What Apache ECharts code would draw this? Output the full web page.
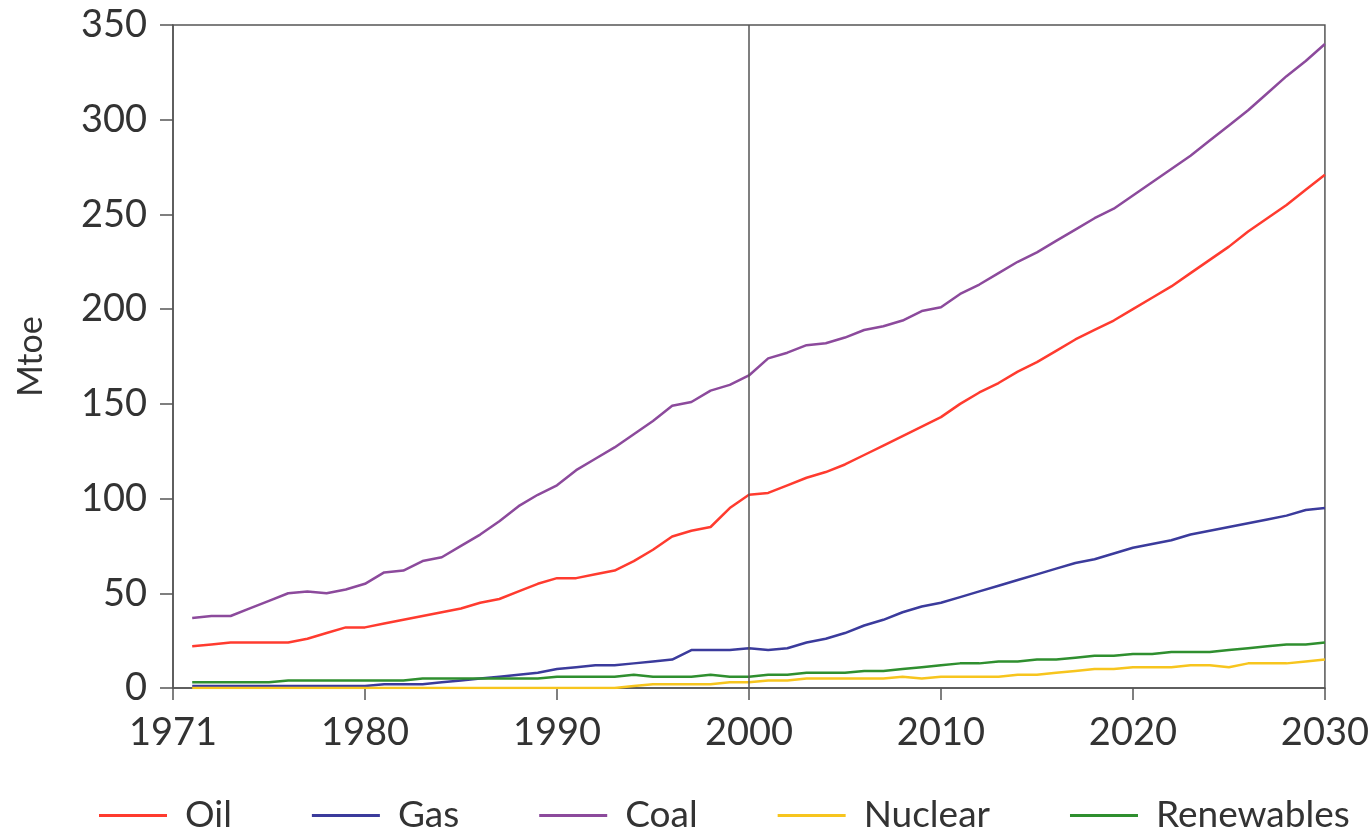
<!DOCTYPE html>
<html>
<head>
<meta charset="utf-8">
<script src="https://cdn.jsdelivr.net/npm/echarts@6/dist/echarts.min.js"></script>
<style>
html,body{margin:0;padding:0;background:#fff;}
#chart{width:1372px;height:835px;}
</style>
</head>
<body>
<div id="chart"></div>
<script>
const years = [];
for (let y = 1971; y <= 2030; y++) years.push(y);

const oil = [22,23,24,24,24,24,26,29,32,32,34,36,38,40,42,45,47,51,55,58,58,60,62,67,73,80,83,85,95,102,103,107,111,114,118,123,128,133,138,143,150,156,161,167,172,178,184,189,194,200,206,212,219,226,233,241,248,255,263,271];
const gas = [1,1,1,1,1,1,1,1,1,1,2,2,2,3,4,5,6,7,8,10,11,12,12,13,14,15,20,20,20,21,20,21,24,26,29,33,36,40,43,45,48,51,54,57,60,63,66,68,71,74,76,78,81,83,85,87,89,91,94,95];
const coal = [37,38,38,42,46,50,51,50,52,55,61,62,67,69,75,81,88,96,102,107,115,121,127,134,141,149,151,157,160,165,174,177,181,182,185,189,191,194,199,201,208,213,219,225,230,236,242,248,253,260,267,274,281,289,297,305,314,323,331,340];
const nuclear = [0,0,0,0,0,0,0,0,0,0,0,0,0,0,0,0,0,0,0,0,0,0,0,1,2,2,2,2,3,3,4,4,5,5,5,5,5,6,5,6,6,6,6,7,7,8,9,10,10,11,11,11,12,12,11,13,13,13,14,15];
const renewables = [3,3,3,3,3,4,4,4,4,4,4,4,5,5,5,5,5,5,5,6,6,6,6,7,6,6,6,7,6,6,7,7,8,8,8,9,9,10,11,12,13,13,14,14,15,15,16,17,17,18,18,19,19,19,20,21,22,23,23,24];

const seriesNames = ['Oil','Gas','Coal','Nuclear','Renewables'];
const seriesColors = ['#ff3b2f','#3b3b9c','#8c4a9c','#f7c51e','#2f8f2f'];
const seriesData = [oil, gas, coal, nuclear, renewables];
const yTicks = [0,50,100,150,200,250,300,350];
const xTickLabelFirst = '1971';

const FONT = 'Lato, "Open Sans", sans-serif';

const chart = echarts.init(document.getElementById('chart'));
const series = seriesNames.map((name, i) => ({
  name: name,
  type: 'line',
  symbol: 'none',
  color: seriesColors[i],
  lineStyle: {width: 2.5, color: seriesColors[i]},
  data: years.map((y, j) => [y, seriesData[i][j]]),
  z: 3
}));
series[0].markLine = {
  silent: true,
  symbol: 'none',
  label: {show: false},
  lineStyle: {color: '#555', width: 1.5, type: 'solid'},
  data: [{xAxis: 2000}]
};

chart.setOption({
  animation: false,
  backgroundColor: '#fff',
  grid: {left: 173, top: 25, width: 1155, height: 663, show: true, borderColor: '#555', borderWidth: 1.5, backgroundColor: 'transparent'},
  xAxis: {
    type: 'value', min: 1970, max: 2030, interval: 10,
    axisLine: {show: true, lineStyle: {color: '#555', width: 1.5}},
    axisTick: {show: true, inside: false, length: 12, lineStyle: {color: '#555', width: 1.5}},
    splitLine: {show: false},
    axisLabel: {margin: 26, fontSize: 38, color: '#333', fontFamily: FONT,
      formatter: v => v === 1970 ? xTickLabelFirst : String(v)}
  },
  yAxis: {
    type: 'value', min: 0, max: 350, interval: 50,
    name: 'Mtoe', nameLocation: 'middle', nameGap: 125, nameRotate: 90,
    nameTextStyle: {fontSize: 34, color: '#333', fontFamily: FONT},
    axisLine: {show: true, lineStyle: {color: '#555', width: 1.5}},
    axisTick: {show: true, inside: false, length: 13, lineStyle: {color: '#555', width: 1.5}},
    splitLine: {show: false},
    axisLabel: {margin: 26, fontSize: 38, color: '#333', fontFamily: FONT,
      formatter: v => yTicks.includes(v) ? String(v) : ''}
  },
  legend: {
    show: true, left: 94, top: 792, orient: 'horizontal',
    icon: 'rect', itemWidth: 68, itemHeight: 3, itemGap: 80,
    textStyle: {fontSize: 37, color: '#333', fontFamily: FONT, padding: [0,0,0,13]},
    data: seriesNames
  },
  series: series
});
</script>
</body>
</html>
